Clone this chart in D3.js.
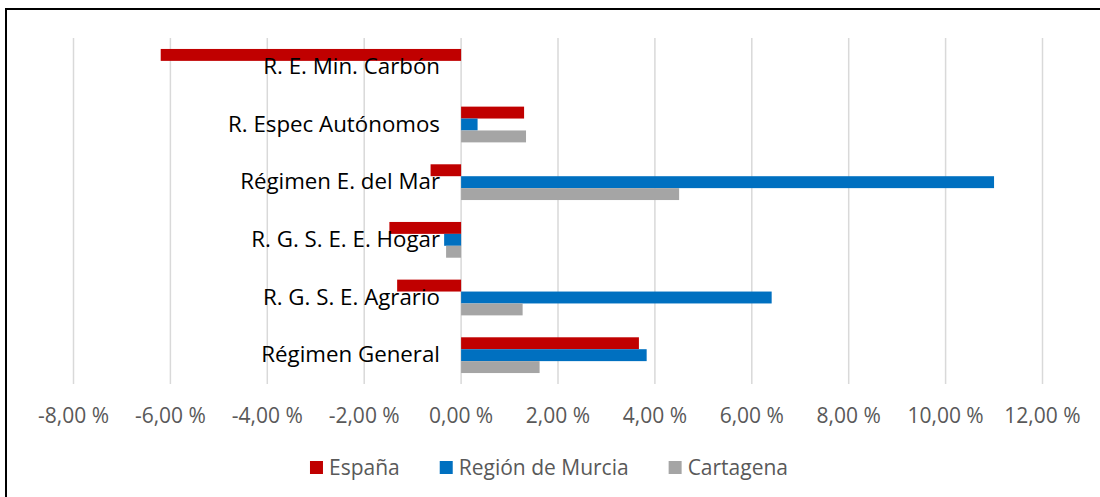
<!DOCTYPE html>
<html>
<head>
<meta charset="utf-8">
<script src="https://cdn.jsdelivr.net/npm/d3@7"></script>
<style>
  html, body { margin: 0; padding: 0; background: #fff; }
  svg { display: block; font-family: "Open Sans", sans-serif; }
</style>
</head>
<body>
<svg id="chart" width="1100" height="497"></svg>
<script>
// categories, top to bottom
const categories = [
    'R. E. Min. Carbón',
    'R. Espec Autónomos',
    'Régimen E. del Mar',
    'R. G. S. E. E. Hogar',
    'R. G. S. E. Agrario',
    'Régimen General'
];
const seriesNames = ['España', 'Región de Murcia', 'Cartagena'];
const espana = [-6.2, 1.3, -0.63, -1.48, -1.32, 3.67];
const murcia = [0, 0.34, 11.0, -0.35, 6.41, 3.83];
const cartagena = [0, 1.34, 4.5, -0.31, 1.27, 1.62];
const xTicks = [-8, -6, -4, -2, 0, 2, 4, 6, 8, 10, 12];
const colors = ['#c00000', '#0070c0', '#a5a5a5'];

const series = [espana, murcia, cartagena];

const svg = d3.select('#chart');

// outer frame (right / bottom edges fall outside the picture)
svg.append('rect')
    .attr('x', 6)
    .attr('y', 9)
    .attr('width', 1200)
    .attr('height', 600)
    .attr('fill', 'none')
    .attr('stroke', '#000')
    .attr('stroke-width', 2);

const x = d3.scaleLinear()
    .domain([-8, 12])
    .range([73.5, 1042.5]);

const y = d3.scaleBand()
    .domain(categories)
    .range([38, 384])
    .paddingInner(0.38)
    .paddingOuter(0.19);

const ySeries = d3.scaleBand()
    .domain(seriesNames)
    .range([0, y.bandwidth()]);

// gridlines + tick marks
svg.append('g')
    .selectAll('line')
    .data(xTicks)
    .enter()
    .append('line')
    .attr('x1', (d) => x(d))
    .attr('x2', (d) => x(d))
    .attr('y1', 38)
    .attr('y2', 384)
    .attr('stroke', '#d9d9d9')
    .attr('stroke-width', 1.5);

// bars
const groups = svg.append('g')
    .selectAll('g')
    .data(seriesNames)
    .enter()
    .append('g')
    .attr('fill', (d, i) => colors[i]);

groups.selectAll('rect')
    .data((d, i) => categories.map((c, j) => ({ cat: c, name: d, v: series[i][j] })))
    .enter()
    .append('rect')
    .attr('x', (d) => x(Math.min(0, d.v)))
    .attr('y', (d) => y(d.cat) + ySeries(d.name))
    .attr('width', (d) => Math.abs(x(d.v) - x(0)))
    .attr('height', ySeries.bandwidth());

// category labels, sitting next to the axis
svg.append('g')
    .selectAll('text')
    .data(categories)
    .enter()
    .append('text')
    .attr('x', 440)
    .attr('y', (d) => y(d) + y.bandwidth() / 2 + 7)
    .attr('text-anchor', 'end')
    .attr('font-size', 22.3)
    .attr('fill', '#000')
    .text((d) => d);

// x tick labels (plain hyphen, comma decimals)
const fmt = (v) => (v < 0 ? '-' : '') + d3.format('.2f')(Math.abs(v)).replace('.', ',') + ' %';
svg.append('g')
    .selectAll('text')
    .data(xTicks)
    .enter()
    .append('text')
    .attr('x', (d) => x(d))
    .attr('y', 423)
    .attr('text-anchor', 'middle')
    .attr('font-size', 21)
    .attr('fill', '#595959')
    .text((d) => fmt(d));

// legend
const legend = svg.append('g');
const items = legend.selectAll('g')
    .data(seriesNames)
    .enter()
    .append('g');

items.append('rect')
    .attr('width', 13)
    .attr('height', 13)
    .attr('y', 461)
    .attr('fill', (d, i) => colors[i]);

items.append('text')
    .attr('x', 19)
    .attr('y', 475)
    .attr('font-size', 21)
    .attr('fill', '#595959')
    .text((d) => d);

let offset = 0;
const widths = [];
items.each(function () {
    widths.push(19 + d3.select(this).select('text').node().getComputedTextLength());
});
const gap = 40;
const total = d3.sum(widths) + gap * (widths.length - 1);
offset = 549 - total / 2;
items.attr('transform', (d, i) => {
    const t = `translate(${offset},0)`;
    offset += widths[i] + gap;
    return t;
});
</script>
</body>
</html>
